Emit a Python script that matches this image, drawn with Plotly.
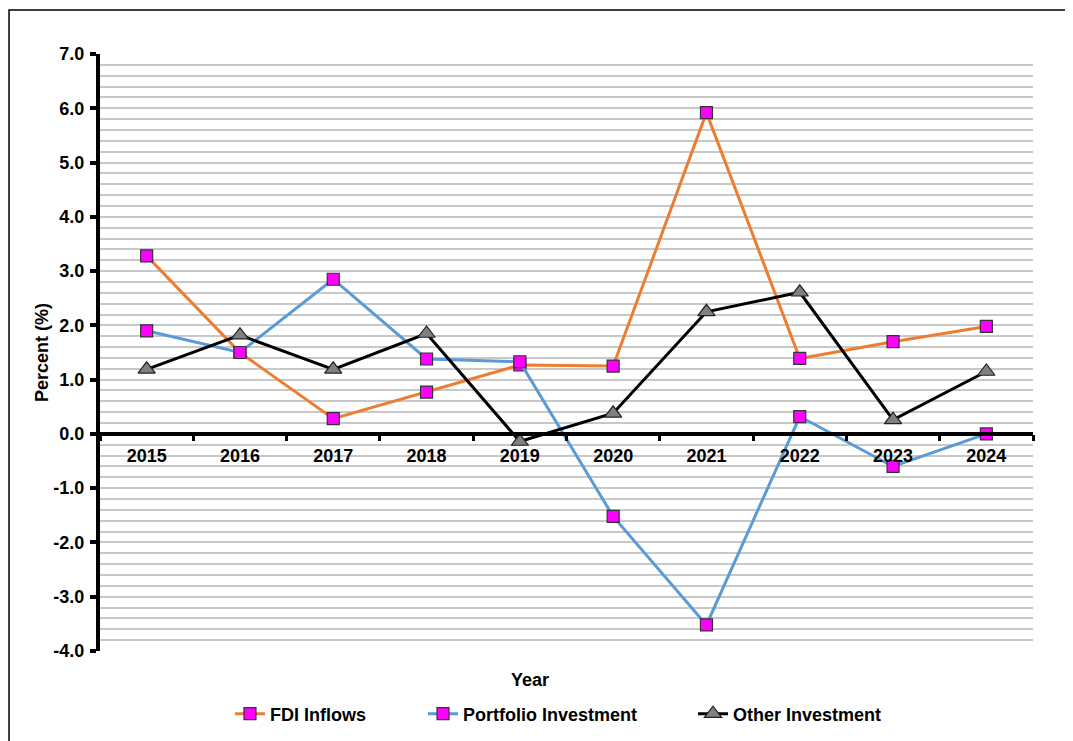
import plotly.graph_objects as go

# 数据
years = ['2015', '2016', '2017', '2018', '2019', '2020', '2021', '2022', '2023', '2024']
fdi_inflows = [3.28, 1.50, 0.28, 0.77, 1.27, 1.25, 5.92, 1.39, 1.70, 1.98]
portfolio_investment = [1.90, 1.50, 2.85, 1.38, 1.33, -1.52, -3.52, 0.32, -0.60, 0.00]
other_investment = [1.19, 1.82, 1.19, 1.85, -0.14, 0.38, 2.25, 2.61, 0.26, 1.15]
y_ticks = [-4, -3, -2, -1, 0, 1, 2, 3, 4, 5, 6, 7]
y_tick_labels = ['-4.0', '-3.0', '-2.0', '-1.0', '0.0', '1.0', '2.0', '3.0', '4.0', '5.0', '6.0', '7.0']

font_family = 'Liberation Sans, Arial, sans-serif'
square_marker = dict(symbol='square', size=12, color='#FF00FF',
                     line=dict(color='#333333', width=1.2))

fig = go.Figure()

fig.add_trace(go.Scatter(
    x=years, y=fdi_inflows, name='FDI Inflows',
    mode='lines+markers',
    line=dict(color='#ED7D31', width=3),
    marker=square_marker,
    legend='legend'
))
fig.add_trace(go.Scatter(
    x=years, y=portfolio_investment, name='Portfolio Investment',
    mode='lines+markers',
    line=dict(color='#5B9BD5', width=3),
    marker=square_marker,
    legend='legend2'
))
fig.add_trace(go.Scatter(
    x=years, y=other_investment, name='Other Investment',
    mode='lines+markers',
    line=dict(color='#000000', width=3),
    marker=dict(symbol='triangle-up', size=15, color='#808080',
                line=dict(color='#222222', width=1.2)),
    legend='legend3'
))

# 零线（横轴线）
fig.add_shape(type='line', xref='paper', yref='y', x0=0, x1=1, y0=0, y1=0,
              line=dict(color='black', width=4), layer='above')

# 外框
fig.add_shape(type='rect', xref='paper', yref='paper',
              x0=-0.0975, x1=1.2, y0=-0.3, y1=1.0737,
              line=dict(color='black', width=1.5), layer='below')

fig.add_annotation(text='<b>Year</b>', xref='paper', yref='paper',
                   x=(530 - 100) / 933, y=-(680 - 651) / 597,
                   xanchor='center', yanchor='middle',
                   showarrow=False, font=dict(size=18, color='black', family=font_family))

zero_pos = 4 / 11
legend_y = -(714 - 651) / 597
legend_font = dict(size=18, family=font_family, color='black', weight='bold')

# 页面body有8px边距，这里把边距往回挪
fig.update_layout(
    width=1073, height=741,
    margin=dict(l=92, r=48, t=46, b=98, autoexpand=False),
    paper_bgcolor='white', plot_bgcolor='white',
    font=dict(family=font_family, color='black'),
    showlegend=True,
    legend=dict(x=0.1393, xanchor='left', y=legend_y, yanchor='middle', font=legend_font),
    legend2=dict(x=0.3462, xanchor='left', y=legend_y, yanchor='middle', font=legend_font),
    legend3=dict(x=0.6356, xanchor='left', y=legend_y, yanchor='middle', font=legend_font),
)

fig.update_xaxes(
    type='category', range=[-0.5, 9.5],
    anchor='free', position=zero_pos, automargin=False,
    showline=False, showgrid=False, zeroline=False,
    ticks='outside', tickson='boundaries', ticklen=6, tickwidth=3, tickcolor='black',
    tickfont=dict(size=18, color='black', family=font_family, weight='bold'),
    ticklabelstandoff=9,
)

fig.update_yaxes(
    range=[-4, 7], automargin=False,
    tickvals=y_ticks, ticktext=y_tick_labels,
    showline=True, linecolor='black', linewidth=4,
    ticks='outside', ticklen=6, tickwidth=4, tickcolor='black',
    tickfont=dict(size=18, color='black', family=font_family, weight='bold'),
    ticklabelstandoff=2,
    showgrid=True, gridcolor='#C8C8C8', gridwidth=1.5,
    zeroline=False,
    minor=dict(dtick=0.2, showgrid=True, gridcolor='#C8C8C8', gridwidth=1.5),
    title=dict(text='<b>Percent (%)</b>', font=dict(size=18, color='black', family=font_family),
               standoff=1),
)

fig.write_html('out.html')
